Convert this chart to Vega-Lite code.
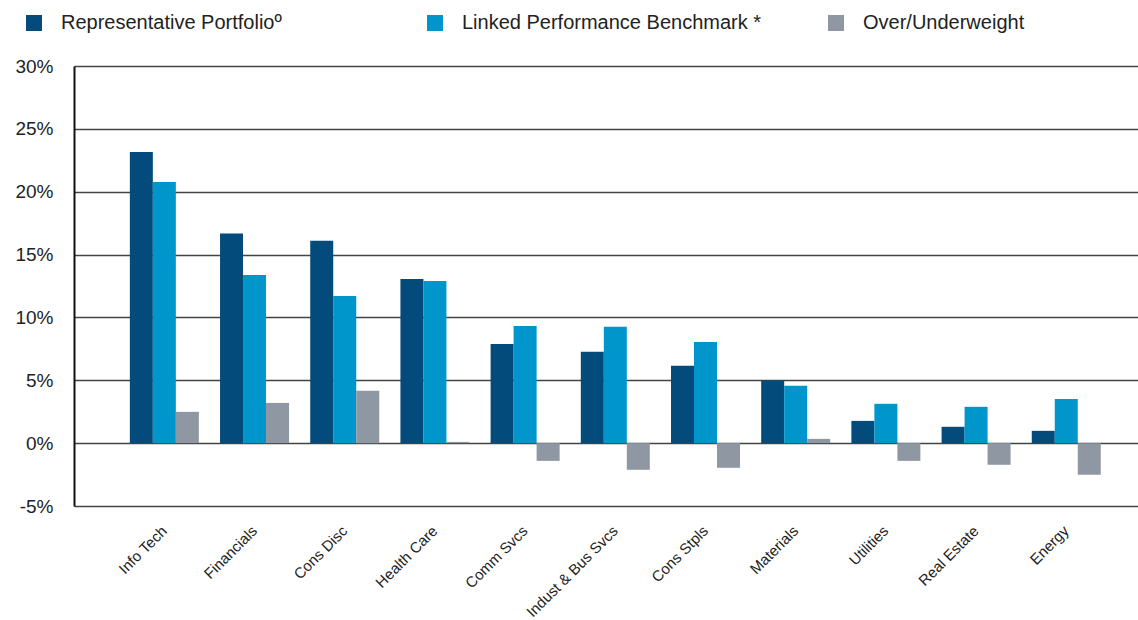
{
  "$schema": "https://vega.github.io/schema/vega-lite/v6.json",
  "width": 1064,
  "height": 440,
  "autosize": {"type": "none"},
  "padding": {"left": 74, "top": 66, "right": 0, "bottom": 114},
  "background": "white",
  "config": {
    "view": {"stroke": null},
    "font": "Liberation Sans",
    "axis": {"labelFont": "Liberation Sans", "labelColor": "#222"}
  },
  "data": {
    "values": [
      {"sector": "Info Tech", "series": "Representative Portfolioº", "value": 23.15},
      {"sector": "Info Tech", "series": "Linked Performance Benchmark *", "value": 20.77},
      {"sector": "Info Tech", "series": "Over/Underweight", "value": 2.49},
      {"sector": "Financials", "series": "Representative Portfolioº", "value": 16.67},
      {"sector": "Financials", "series": "Linked Performance Benchmark *", "value": 13.38},
      {"sector": "Financials", "series": "Over/Underweight", "value": 3.2},
      {"sector": "Cons Disc", "series": "Representative Portfolioº", "value": 16.1},
      {"sector": "Cons Disc", "series": "Linked Performance Benchmark *", "value": 11.7},
      {"sector": "Cons Disc", "series": "Over/Underweight", "value": 4.16},
      {"sector": "Health Care", "series": "Representative Portfolioº", "value": 13.06},
      {"sector": "Health Care", "series": "Linked Performance Benchmark *", "value": 12.9},
      {"sector": "Health Care", "series": "Over/Underweight", "value": 0.1},
      {"sector": "Comm Svcs", "series": "Representative Portfolioº", "value": 7.89},
      {"sector": "Comm Svcs", "series": "Linked Performance Benchmark *", "value": 9.32},
      {"sector": "Comm Svcs", "series": "Over/Underweight", "value": -1.41},
      {"sector": "Indust & Bus Svcs", "series": "Representative Portfolioº", "value": 7.26},
      {"sector": "Indust & Bus Svcs", "series": "Linked Performance Benchmark *", "value": 9.25},
      {"sector": "Indust & Bus Svcs", "series": "Over/Underweight", "value": -2.12},
      {"sector": "Cons Stpls", "series": "Representative Portfolioº", "value": 6.15},
      {"sector": "Cons Stpls", "series": "Linked Performance Benchmark *", "value": 8.05},
      {"sector": "Cons Stpls", "series": "Over/Underweight", "value": -1.96},
      {"sector": "Materials", "series": "Representative Portfolioº", "value": 4.98},
      {"sector": "Materials", "series": "Linked Performance Benchmark *", "value": 4.56},
      {"sector": "Materials", "series": "Over/Underweight", "value": 0.34},
      {"sector": "Utilities", "series": "Representative Portfolioº", "value": 1.77},
      {"sector": "Utilities", "series": "Linked Performance Benchmark *", "value": 3.13},
      {"sector": "Utilities", "series": "Over/Underweight", "value": -1.41},
      {"sector": "Real Estate", "series": "Representative Portfolioº", "value": 1.3},
      {"sector": "Real Estate", "series": "Linked Performance Benchmark *", "value": 2.89},
      {"sector": "Real Estate", "series": "Over/Underweight", "value": -1.72},
      {"sector": "Energy", "series": "Representative Portfolioº", "value": 0.98},
      {"sector": "Energy", "series": "Linked Performance Benchmark *", "value": 3.52},
      {"sector": "Energy", "series": "Over/Underweight", "value": -2.52}
    ]
  },
  "mark": {"type": "bar"},
  "encoding": {
    "x": {
      "field": "sector",
      "type": "nominal",
      "sort": null,
      "scale": {"paddingInner": 0.235, "paddingOuter": 0.516, "align": 0.6},
      "axis": {
        "title": null,
        "domain": false,
        "ticks": false,
        "labelAngle": -45,
        "labelAlign": "right",
        "labelBaseline": "middle",
        "labelPadding": 22,
        "labelFontSize": 15,
        "labelFont": "Liberation Sans"
      }
    },
    "xOffset": {
      "field": "series",
      "type": "nominal",
      "sort": ["Representative Portfolioº", "Linked Performance Benchmark *", "Over/Underweight"],
      "scale": {"paddingInner": 0, "paddingOuter": 0}
    },
    "y": {
      "field": "value",
      "type": "quantitative",
      "scale": {"domain": [-5, 30], "nice": false, "zero": false},
      "axis": {
        "title": null,
        "values": [-5, 0, 5, 10, 15, 20, 25, 30],
        "labelExpr": "datum.value + '%'",
        "labelFontSize": 19,
        "labelPadding": 21,
        "ticks": false,
        "domain": true,
        "domainColor": "#111",
        "domainWidth": 2,
        "grid": true,
        "gridColor": "#444",
        "gridWidth": 1.5
      }
    },
    "color": {
      "field": "series",
      "type": "nominal",
      "sort": ["Representative Portfolioº", "Linked Performance Benchmark *", "Over/Underweight"],
      "scale": {
        "domain": ["Representative Portfolioº", "Linked Performance Benchmark *", "Over/Underweight"],
        "range": ["#024B7A", "#0096CB", "#8E97A2"]
      },
      "legend": {
        "title": null,
        "orient": "none",
        "legendX": -50,
        "legendY": -53,
        "direction": "horizontal",
        "columns": 3,
        "gridAlign": "all",
        "symbolType": "square",
        "symbolSize": 256,
        "symbolStrokeWidth": 0,
        "symbolOffset": 0,
        "labelOffset": 17,
        "labelFontSize": 20,
        "labelColor": "#222",
        "labelLimit": 400,
        "columnPadding": 64
      }
    }
  }
}
